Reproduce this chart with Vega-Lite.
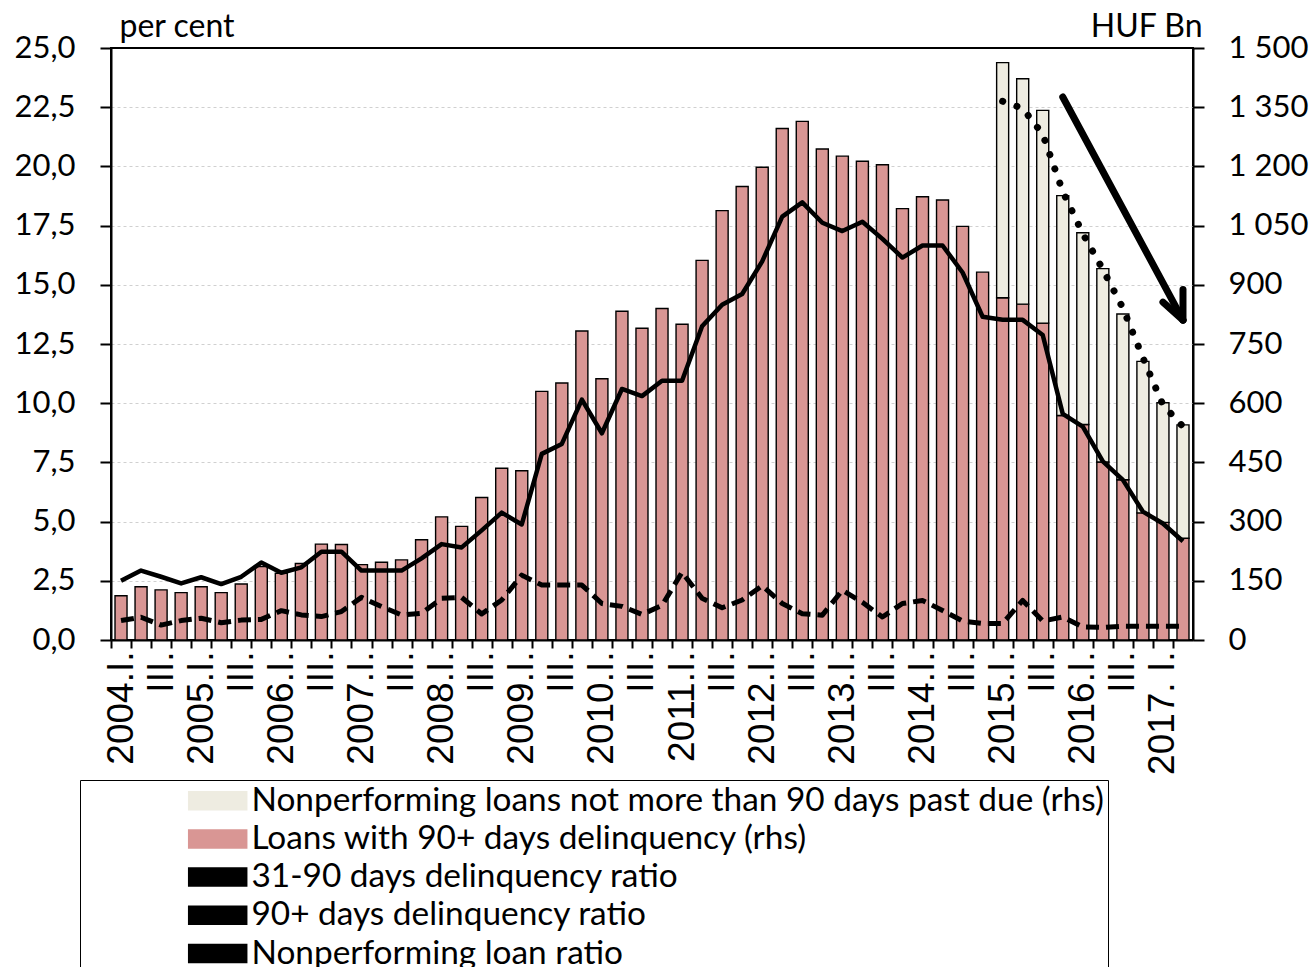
{
  "$schema": "https://vega.github.io/schema/vega-lite/v6.json",
  "width": 1082,
  "height": 592,
  "autosize": "none",
  "padding": {"left": 111, "top": 48, "right": 119, "bottom": 327},
  "background": "white",
  "config": {
    "view": {"stroke": "black", "strokeWidth": 2},
    "font": "Lato",
    "axis": {"domainColor": "black", "domainWidth": 2, "tickColor": "black", "tickWidth": 2, "labelColor": "black", "labelFont": "Lato", "labelFontSize": 31, "titleFont": "Lato", "titleFontSize": 32, "titleFontWeight": "normal", "titleColor": "black"}
  },
  "datasets": {
    "barvals": [
      {"q":"2004Q1","series":"Loans with 90+ days delinquency (rhs)","v":112},
      {"q":"2004Q2","series":"Loans with 90+ days delinquency (rhs)","v":135},
      {"q":"2004Q3","series":"Loans with 90+ days delinquency (rhs)","v":127},
      {"q":"2004Q4","series":"Loans with 90+ days delinquency (rhs)","v":120},
      {"q":"2005Q1","series":"Loans with 90+ days delinquency (rhs)","v":135},
      {"q":"2005Q2","series":"Loans with 90+ days delinquency (rhs)","v":120},
      {"q":"2005Q3","series":"Loans with 90+ days delinquency (rhs)","v":142},
      {"q":"2005Q4","series":"Loans with 90+ days delinquency (rhs)","v":186},
      {"q":"2006Q1","series":"Loans with 90+ days delinquency (rhs)","v":169},
      {"q":"2006Q2","series":"Loans with 90+ days delinquency (rhs)","v":194},
      {"q":"2006Q3","series":"Loans with 90+ days delinquency (rhs)","v":243},
      {"q":"2006Q4","series":"Loans with 90+ days delinquency (rhs)","v":242},
      {"q":"2007Q1","series":"Loans with 90+ days delinquency (rhs)","v":191},
      {"q":"2007Q2","series":"Loans with 90+ days delinquency (rhs)","v":197},
      {"q":"2007Q3","series":"Loans with 90+ days delinquency (rhs)","v":203},
      {"q":"2007Q4","series":"Loans with 90+ days delinquency (rhs)","v":254},
      {"q":"2008Q1","series":"Loans with 90+ days delinquency (rhs)","v":312},
      {"q":"2008Q2","series":"Loans with 90+ days delinquency (rhs)","v":288},
      {"q":"2008Q3","series":"Loans with 90+ days delinquency (rhs)","v":361},
      {"q":"2008Q4","series":"Loans with 90+ days delinquency (rhs)","v":435},
      {"q":"2009Q1","series":"Loans with 90+ days delinquency (rhs)","v":429},
      {"q":"2009Q2","series":"Loans with 90+ days delinquency (rhs)","v":630},
      {"q":"2009Q3","series":"Loans with 90+ days delinquency (rhs)","v":651},
      {"q":"2009Q4","series":"Loans with 90+ days delinquency (rhs)","v":783},
      {"q":"2010Q1","series":"Loans with 90+ days delinquency (rhs)","v":662},
      {"q":"2010Q2","series":"Loans with 90+ days delinquency (rhs)","v":833},
      {"q":"2010Q3","series":"Loans with 90+ days delinquency (rhs)","v":790},
      {"q":"2010Q4","series":"Loans with 90+ days delinquency (rhs)","v":840},
      {"q":"2011Q1","series":"Loans with 90+ days delinquency (rhs)","v":800},
      {"q":"2011Q2","series":"Loans with 90+ days delinquency (rhs)","v":962},
      {"q":"2011Q3","series":"Loans with 90+ days delinquency (rhs)","v":1088},
      {"q":"2011Q4","series":"Loans with 90+ days delinquency (rhs)","v":1149},
      {"q":"2012Q1","series":"Loans with 90+ days delinquency (rhs)","v":1198},
      {"q":"2012Q2","series":"Loans with 90+ days delinquency (rhs)","v":1296},
      {"q":"2012Q3","series":"Loans with 90+ days delinquency (rhs)","v":1314},
      {"q":"2012Q4","series":"Loans with 90+ days delinquency (rhs)","v":1244},
      {"q":"2013Q1","series":"Loans with 90+ days delinquency (rhs)","v":1226},
      {"q":"2013Q2","series":"Loans with 90+ days delinquency (rhs)","v":1213},
      {"q":"2013Q3","series":"Loans with 90+ days delinquency (rhs)","v":1204},
      {"q":"2013Q4","series":"Loans with 90+ days delinquency (rhs)","v":1093},
      {"q":"2014Q1","series":"Loans with 90+ days delinquency (rhs)","v":1123},
      {"q":"2014Q2","series":"Loans with 90+ days delinquency (rhs)","v":1115},
      {"q":"2014Q3","series":"Loans with 90+ days delinquency (rhs)","v":1048},
      {"q":"2014Q4","series":"Loans with 90+ days delinquency (rhs)","v":932},
      {"q":"2015Q1","series":"Loans with 90+ days delinquency (rhs)","v":867},
      {"q":"2015Q2","series":"Loans with 90+ days delinquency (rhs)","v":851},
      {"q":"2015Q3","series":"Loans with 90+ days delinquency (rhs)","v":803},
      {"q":"2015Q4","series":"Loans with 90+ days delinquency (rhs)","v":569},
      {"q":"2016Q1","series":"Loans with 90+ days delinquency (rhs)","v":546},
      {"q":"2016Q2","series":"Loans with 90+ days delinquency (rhs)","v":451},
      {"q":"2016Q3","series":"Loans with 90+ days delinquency (rhs)","v":406},
      {"q":"2016Q4","series":"Loans with 90+ days delinquency (rhs)","v":322},
      {"q":"2017Q1","series":"Loans with 90+ days delinquency (rhs)","v":298},
      {"q":"2017Q2","series":"Loans with 90+ days delinquency (rhs)","v":258},
      {"q":"2015Q1","series":"Nonperforming loans not more than 90 days past due (rhs)","v":596},
      {"q":"2015Q2","series":"Nonperforming loans not more than 90 days past due (rhs)","v":571},
      {"q":"2015Q3","series":"Nonperforming loans not more than 90 days past due (rhs)","v":539},
      {"q":"2015Q4","series":"Nonperforming loans not more than 90 days past due (rhs)","v":557},
      {"q":"2016Q1","series":"Nonperforming loans not more than 90 days past due (rhs)","v":486},
      {"q":"2016Q2","series":"Nonperforming loans not more than 90 days past due (rhs)","v":490},
      {"q":"2016Q3","series":"Nonperforming loans not more than 90 days past due (rhs)","v":420},
      {"q":"2016Q4","series":"Nonperforming loans not more than 90 days past due (rhs)","v":384},
      {"q":"2017Q1","series":"Nonperforming loans not more than 90 days past due (rhs)","v":303},
      {"q":"2017Q2","series":"Nonperforming loans not more than 90 days past due (rhs)","v":287}
    ],
    "ratios": [
      {"q":"2004Q1","series":"31-90 days delinquency ratio","r":0.82},{"q":"2004Q2","series":"31-90 days delinquency ratio","r":0.96},{"q":"2004Q3","series":"31-90 days delinquency ratio","r":0.63},{"q":"2004Q4","series":"31-90 days delinquency ratio","r":0.82},
      {"q":"2005Q1","series":"31-90 days delinquency ratio","r":0.92},{"q":"2005Q2","series":"31-90 days delinquency ratio","r":0.73},{"q":"2005Q3","series":"31-90 days delinquency ratio","r":0.84},{"q":"2005Q4","series":"31-90 days delinquency ratio","r":0.87},
      {"q":"2006Q1","series":"31-90 days delinquency ratio","r":1.24},{"q":"2006Q2","series":"31-90 days delinquency ratio","r":1.06},{"q":"2006Q3","series":"31-90 days delinquency ratio","r":0.99},{"q":"2006Q4","series":"31-90 days delinquency ratio","r":1.20},
      {"q":"2007Q1","series":"31-90 days delinquency ratio","r":1.80},{"q":"2007Q2","series":"31-90 days delinquency ratio","r":1.41},{"q":"2007Q3","series":"31-90 days delinquency ratio","r":1.06},{"q":"2007Q4","series":"31-90 days delinquency ratio","r":1.13},
      {"q":"2008Q1","series":"31-90 days delinquency ratio","r":1.76},{"q":"2008Q2","series":"31-90 days delinquency ratio","r":1.80},{"q":"2008Q3","series":"31-90 days delinquency ratio","r":1.10},{"q":"2008Q4","series":"31-90 days delinquency ratio","r":1.69},
      {"q":"2009Q1","series":"31-90 days delinquency ratio","r":2.74},{"q":"2009Q2","series":"31-90 days delinquency ratio","r":2.32},{"q":"2009Q3","series":"31-90 days delinquency ratio","r":2.32},{"q":"2009Q4","series":"31-90 days delinquency ratio","r":2.32},
      {"q":"2010Q1","series":"31-90 days delinquency ratio","r":1.54},{"q":"2010Q2","series":"31-90 days delinquency ratio","r":1.42},{"q":"2010Q3","series":"31-90 days delinquency ratio","r":1.08},{"q":"2010Q4","series":"31-90 days delinquency ratio","r":1.46},
      {"q":"2011Q1","series":"31-90 days delinquency ratio","r":2.86},{"q":"2011Q2","series":"31-90 days delinquency ratio","r":1.76},{"q":"2011Q3","series":"31-90 days delinquency ratio","r":1.36},{"q":"2011Q4","series":"31-90 days delinquency ratio","r":1.69},
      {"q":"2012Q1","series":"31-90 days delinquency ratio","r":2.29},{"q":"2012Q2","series":"31-90 days delinquency ratio","r":1.54},{"q":"2012Q3","series":"31-90 days delinquency ratio","r":1.11},{"q":"2012Q4","series":"31-90 days delinquency ratio","r":1.05},
      {"q":"2013Q1","series":"31-90 days delinquency ratio","r":2.10},{"q":"2013Q2","series":"31-90 days delinquency ratio","r":1.59},{"q":"2013Q3","series":"31-90 days delinquency ratio","r":0.97},{"q":"2013Q4","series":"31-90 days delinquency ratio","r":1.54},
      {"q":"2014Q1","series":"31-90 days delinquency ratio","r":1.67},{"q":"2014Q2","series":"31-90 days delinquency ratio","r":1.25},{"q":"2014Q3","series":"31-90 days delinquency ratio","r":0.80},{"q":"2014Q4","series":"31-90 days delinquency ratio","r":0.70},
      {"q":"2015Q1","series":"31-90 days delinquency ratio","r":0.70},{"q":"2015Q2","series":"31-90 days delinquency ratio","r":1.67},{"q":"2015Q3","series":"31-90 days delinquency ratio","r":0.80},{"q":"2015Q4","series":"31-90 days delinquency ratio","r":0.97},
      {"q":"2016Q1","series":"31-90 days delinquency ratio","r":0.55},{"q":"2016Q2","series":"31-90 days delinquency ratio","r":0.53},{"q":"2016Q3","series":"31-90 days delinquency ratio","r":0.58},{"q":"2016Q4","series":"31-90 days delinquency ratio","r":0.58},
      {"q":"2017Q1","series":"31-90 days delinquency ratio","r":0.58},{"q":"2017Q2","series":"31-90 days delinquency ratio","r":0.58},
      {"q":"2004Q1","series":"90+ days delinquency ratio","r":2.50},{"q":"2004Q2","series":"90+ days delinquency ratio","r":2.93},{"q":"2004Q3","series":"90+ days delinquency ratio","r":2.67},{"q":"2004Q4","series":"90+ days delinquency ratio","r":2.39},
      {"q":"2005Q1","series":"90+ days delinquency ratio","r":2.65},{"q":"2005Q2","series":"90+ days delinquency ratio","r":2.36},{"q":"2005Q3","series":"90+ days delinquency ratio","r":2.67},{"q":"2005Q4","series":"90+ days delinquency ratio","r":3.27},
      {"q":"2006Q1","series":"90+ days delinquency ratio","r":2.84},{"q":"2006Q2","series":"90+ days delinquency ratio","r":3.07},{"q":"2006Q3","series":"90+ days delinquency ratio","r":3.73},{"q":"2006Q4","series":"90+ days delinquency ratio","r":3.73},
      {"q":"2007Q1","series":"90+ days delinquency ratio","r":2.93},{"q":"2007Q2","series":"90+ days delinquency ratio","r":2.93},{"q":"2007Q3","series":"90+ days delinquency ratio","r":2.93},{"q":"2007Q4","series":"90+ days delinquency ratio","r":3.45},
      {"q":"2008Q1","series":"90+ days delinquency ratio","r":4.05},{"q":"2008Q2","series":"90+ days delinquency ratio","r":3.91},{"q":"2008Q3","series":"90+ days delinquency ratio","r":4.63},{"q":"2008Q4","series":"90+ days delinquency ratio","r":5.38},
      {"q":"2009Q1","series":"90+ days delinquency ratio","r":4.88},{"q":"2009Q2","series":"90+ days delinquency ratio","r":7.86},{"q":"2009Q3","series":"90+ days delinquency ratio","r":8.28},{"q":"2009Q4","series":"90+ days delinquency ratio","r":10.15},
      {"q":"2010Q1","series":"90+ days delinquency ratio","r":8.73},{"q":"2010Q2","series":"90+ days delinquency ratio","r":10.60},{"q":"2010Q3","series":"90+ days delinquency ratio","r":10.30},{"q":"2010Q4","series":"90+ days delinquency ratio","r":10.95},
      {"q":"2011Q1","series":"90+ days delinquency ratio","r":10.95},{"q":"2011Q2","series":"90+ days delinquency ratio","r":13.25},{"q":"2011Q3","series":"90+ days delinquency ratio","r":14.16},{"q":"2011Q4","series":"90+ days delinquency ratio","r":14.61},
      {"q":"2012Q1","series":"90+ days delinquency ratio","r":15.99},{"q":"2012Q2","series":"90+ days delinquency ratio","r":17.88},{"q":"2012Q3","series":"90+ days delinquency ratio","r":18.48},{"q":"2012Q4","series":"90+ days delinquency ratio","r":17.62},
      {"q":"2013Q1","series":"90+ days delinquency ratio","r":17.27},{"q":"2013Q2","series":"90+ days delinquency ratio","r":17.66},{"q":"2013Q3","series":"90+ days delinquency ratio","r":16.94},{"q":"2013Q4","series":"90+ days delinquency ratio","r":16.15},
      {"q":"2014Q1","series":"90+ days delinquency ratio","r":16.66},{"q":"2014Q2","series":"90+ days delinquency ratio","r":16.66},{"q":"2014Q3","series":"90+ days delinquency ratio","r":15.52},{"q":"2014Q4","series":"90+ days delinquency ratio","r":13.65},
      {"q":"2015Q1","series":"90+ days delinquency ratio","r":13.52},{"q":"2015Q2","series":"90+ days delinquency ratio","r":13.52},{"q":"2015Q3","series":"90+ days delinquency ratio","r":12.88},{"q":"2015Q4","series":"90+ days delinquency ratio","r":9.55},
      {"q":"2016Q1","series":"90+ days delinquency ratio","r":9.01},{"q":"2016Q2","series":"90+ days delinquency ratio","r":7.54},{"q":"2016Q3","series":"90+ days delinquency ratio","r":6.76},{"q":"2016Q4","series":"90+ days delinquency ratio","r":5.42},
      {"q":"2017Q1","series":"90+ days delinquency ratio","r":4.92},{"q":"2017Q2","series":"90+ days delinquency ratio","r":4.17},
      {"q":"2015Q1","series":"Nonperforming loan ratio","r":22.75},{"q":"2015Q2","series":"Nonperforming loan ratio","r":22.45},{"q":"2015Q3","series":"Nonperforming loan ratio","r":21.36},{"q":"2015Q4","series":"Nonperforming loan ratio","r":18.94},
      {"q":"2016Q1","series":"Nonperforming loan ratio","r":17.16},{"q":"2016Q2","series":"Nonperforming loan ratio","r":15.65},{"q":"2016Q3","series":"Nonperforming loan ratio","r":14.02},{"q":"2016Q4","series":"Nonperforming loan ratio","r":11.92},
      {"q":"2017Q1","series":"Nonperforming loan ratio","r":9.93},{"q":"2017Q2","series":"Nonperforming loan ratio","r":9.01}
    ],
    "arrowsegs": [
      {"from":"2015Q4","to":"2017Q2","y":22.93,"y2":13.51},
      {"from":"2017Q2","to":"2017Q2","y":14.8,"y2":13.51},
      {"from":"2017Q1","to":"2017Q2","y":14.27,"y2":13.51}
    ]
  },
  "encoding": {
    "x": {
      "field": "q", "type": "ordinal",
      "scale": {"type": "band", "paddingInner": 0.4, "paddingOuter": 0.2},
      "axis": {
        "orient": "bottom", "title": null, "labelAngle": -90,
        "labelFont": "Liberation Sans", "labelFontSize": 37,
        "labelExpr": "datum.value == '2017Q1' ? '2017. I.' : slice(datum.value, 5) == '1' ? slice(datum.value, 0, 4) + '.I.' : slice(datum.value, 5) == '3' ? 'III.' : ''",
        "tickSize": 8, "labelPadding": 3, "tickOffset": -10, "labelOffset": 10
      }
    }
  },
  "layer": [
    {
      "data": {"name": "barvals"},
      "mark": {"type": "bar", "stroke": "black", "strokeWidth": 1.4},
      "encoding": {
        "y": {
          "field": "v", "type": "quantitative", "stack": "zero",
          "scale": {"domain": [0, 1500], "nice": false},
          "axis": {
            "orient": "right", "values": [0,150,300,450,600,750,900,1050,1200,1350,1500],
            "labelExpr": "replace(format(datum.value, ','), ',', ' ')",
            "tickSize": 11, "labelPadding": 24, "grid": false,
            "title": "HUF Bn", "titleAngle": 0, "titleAlign": "right", "titleBaseline": "alphabetic", "titleX": 9, "titleY": -12
          }
        },
        "color": {
          "field": "series", "type": "nominal",
          "scale": {
            "domain": ["Nonperforming loans not more than 90 days past due (rhs)", "Loans with 90+ days delinquency (rhs)", "31-90 days delinquency ratio", "90+ days delinquency ratio", "Nonperforming loan ratio"],
            "range": ["#eeece1", "#d99694", "black", "black", "black"]
          },
          "legend": {
            "orient": "none", "legendX": -31, "legendY": 732, "direction": "vertical", "title": null,
            "strokeColor": "black", "padding": 4,
            "labelFont": "Lato", "labelFontSize": 33.4, "labelColor": "black", "labelLimit": 2000,
            "symbolSize": 400, "symbolOffset": 117, "labelOffset": 17, "rowPadding": 3.2,
            "symbolType": "M-2.9,-0.9H2.9V0.9H-2.9Z", "symbolStrokeColor": "black", "symbolStrokeWidth": 1.5
          }
        },
        "order": {"field": "series", "sort": "ascending"}
      }
    },
    {
      "data": {"name": "ratios"},
      "transform": [{"filter": "datum.series == '31-90 days delinquency ratio'"}],
      "mark": {"type": "line", "strokeWidth": 5, "strokeDash": [13, 7], "strokeJoin": "round"},
      "encoding": {
        "y": {
          "field": "r", "type": "quantitative",
          "scale": {"domain": [0, 25], "nice": false},
          "axis": {
            "orient": "left", "values": [0,2.5,5,7.5,10,12.5,15,17.5,20,22.5,25],
            "labelExpr": "replace(format(datum.value, '.1f'), '.', ',')",
            "tickSize": 11, "labelPadding": 25,
            "grid": true, "gridColor": "#d0d0d0", "gridDash": [3, 3], "gridWidth": 1,
            "gridOpacity": {"condition": {"test": "datum.value >= 25", "value": 0}, "value": 1},
            "title": "per cent", "titleAngle": 0, "titleAlign": "left", "titleBaseline": "alphabetic", "titleX": 8, "titleY": -12
          }
        },
        "color": {"field": "series", "type": "nominal"}
      }
    },
    {
      "data": {"name": "ratios"},
      "transform": [{"filter": "datum.series == '90+ days delinquency ratio'"}],
      "mark": {"type": "line", "strokeWidth": 4.5, "strokeJoin": "round"},
      "encoding": {
        "y": {"field": "r", "type": "quantitative", "scale": {"domain": [0, 25], "nice": false}, "axis": null},
        "color": {"field": "series", "type": "nominal"}
      }
    },
    {
      "data": {"name": "ratios"},
      "transform": [{"filter": "datum.series == 'Nonperforming loan ratio'"}],
      "mark": {"type": "line", "strokeWidth": 7, "strokeDash": [0.1, 15], "strokeCap": "round"},
      "encoding": {
        "y": {"field": "r", "type": "quantitative", "scale": {"domain": [0, 25], "nice": false}, "axis": null},
        "color": {"field": "series", "type": "nominal"}
      }
    },
    {
      "data": {"name": "arrowsegs"},
      "mark": {"type": "rule", "strokeWidth": 7, "strokeCap": "round", "color": "black"},
      "encoding": {
        "x": {"field": "from", "type": "ordinal"},
        "x2": {"field": "to"},
        "y": {"field": "y", "type": "quantitative", "scale": {"domain": [0, 25], "nice": false}, "axis": null},
        "y2": {"field": "y2"}
      }
    }
  ],
  "resolve": {"scale": {"y": "independent"}}
}
